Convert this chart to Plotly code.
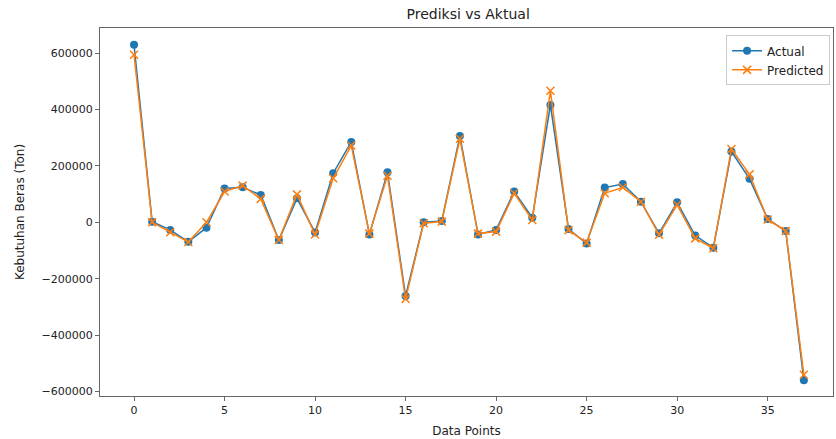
import plotly.graph_objects as go

x_points = list(range(38))
actual = [629000, 2000, -27000, -69000, -19000, 120000, 124000, 97000, -63000, 85000,
          -36000, 174000, 285000, -43000, 177000, -261000, 0, 5000, 306000, -43000,
          -27000, 109000, 16000, 416000, -24000, -75000, 123000, 136000, 73000, -39000,
          71000, -47000, -90000, 251000, 154000, 12000, -31000, -560000]
predicted = [594000, 0, -35000, -70000, 0, 109000, 130000, 83000, -63000, 99000,
             -43000, 156000, 272000, -40000, 165000, -272000, -3000, 3000, 296000, -40000,
             -33000, 103000, 8000, 466000, -28000, -72000, 103000, 124000, 73000, -44000,
             62000, -57000, -92000, 260000, 170000, 10000, -31000, -540000]
x_ticks = [0, 5, 10, 15, 20, 25, 30, 35]
y_ticks = [-600000, -400000, -200000, 0, 200000, 400000, 600000]

fig = go.Figure()
fig.add_trace(go.Scatter(x=x_points, y=actual, mode="lines+markers", name="Actual",
                         line=dict(color="#1f77b4", width=1.5),
                         marker=dict(symbol="circle", size=8, color="#1f77b4")))
fig.add_trace(go.Scatter(x=x_points, y=predicted, mode="lines+markers", name="Predicted",
                         line=dict(color="#ff7f0e", width=1.5),
                         marker=dict(symbol="x-thin", size=8, color="#ff7f0e",
                                     line=dict(color="#ff7f0e", width=1.5))))

axis_common = dict(showline=True, linecolor="#666", linewidth=1, mirror=True,
                   ticks="outside", ticklen=4, tickcolor="#666", showgrid=False,
                   zeroline=False, automargin=False, tickfont=dict(size=11, color="#222"))

fig.update_layout(
    width=836, height=439,
    margin=dict(l=100, r=3, t=28, b=43, autoexpand=False),
    paper_bgcolor="white", plot_bgcolor="white",
    font=dict(family="DejaVu Sans", color="#222"),
    title=dict(text="Prediksi vs Aktual", x=0.56, xanchor="center",
               y=0.968, yanchor="middle", font=dict(size=14)),
    xaxis=dict(range=[-1.88, 38.61], tickvals=x_ticks,
               title=dict(text="Data Points", font=dict(size=12), standoff=10), **axis_common),
    yaxis=dict(range=[-615600, 688700], tickvals=y_ticks, tickformat="d",
               title=dict(text="Kebutuhan Beras (Ton)", font=dict(size=12), standoff=14), **axis_common),
    legend=dict(x=0.996, y=0.98, xanchor="right", yanchor="top", bgcolor="white",
                bordercolor="#ccc", borderwidth=1, font=dict(size=12)),
    showlegend=True,
)
fig.write_html("out.html", config={"displayModeBar": False},
               post_script="document.body.style.margin='0';document.body.style.overflow='hidden';")
